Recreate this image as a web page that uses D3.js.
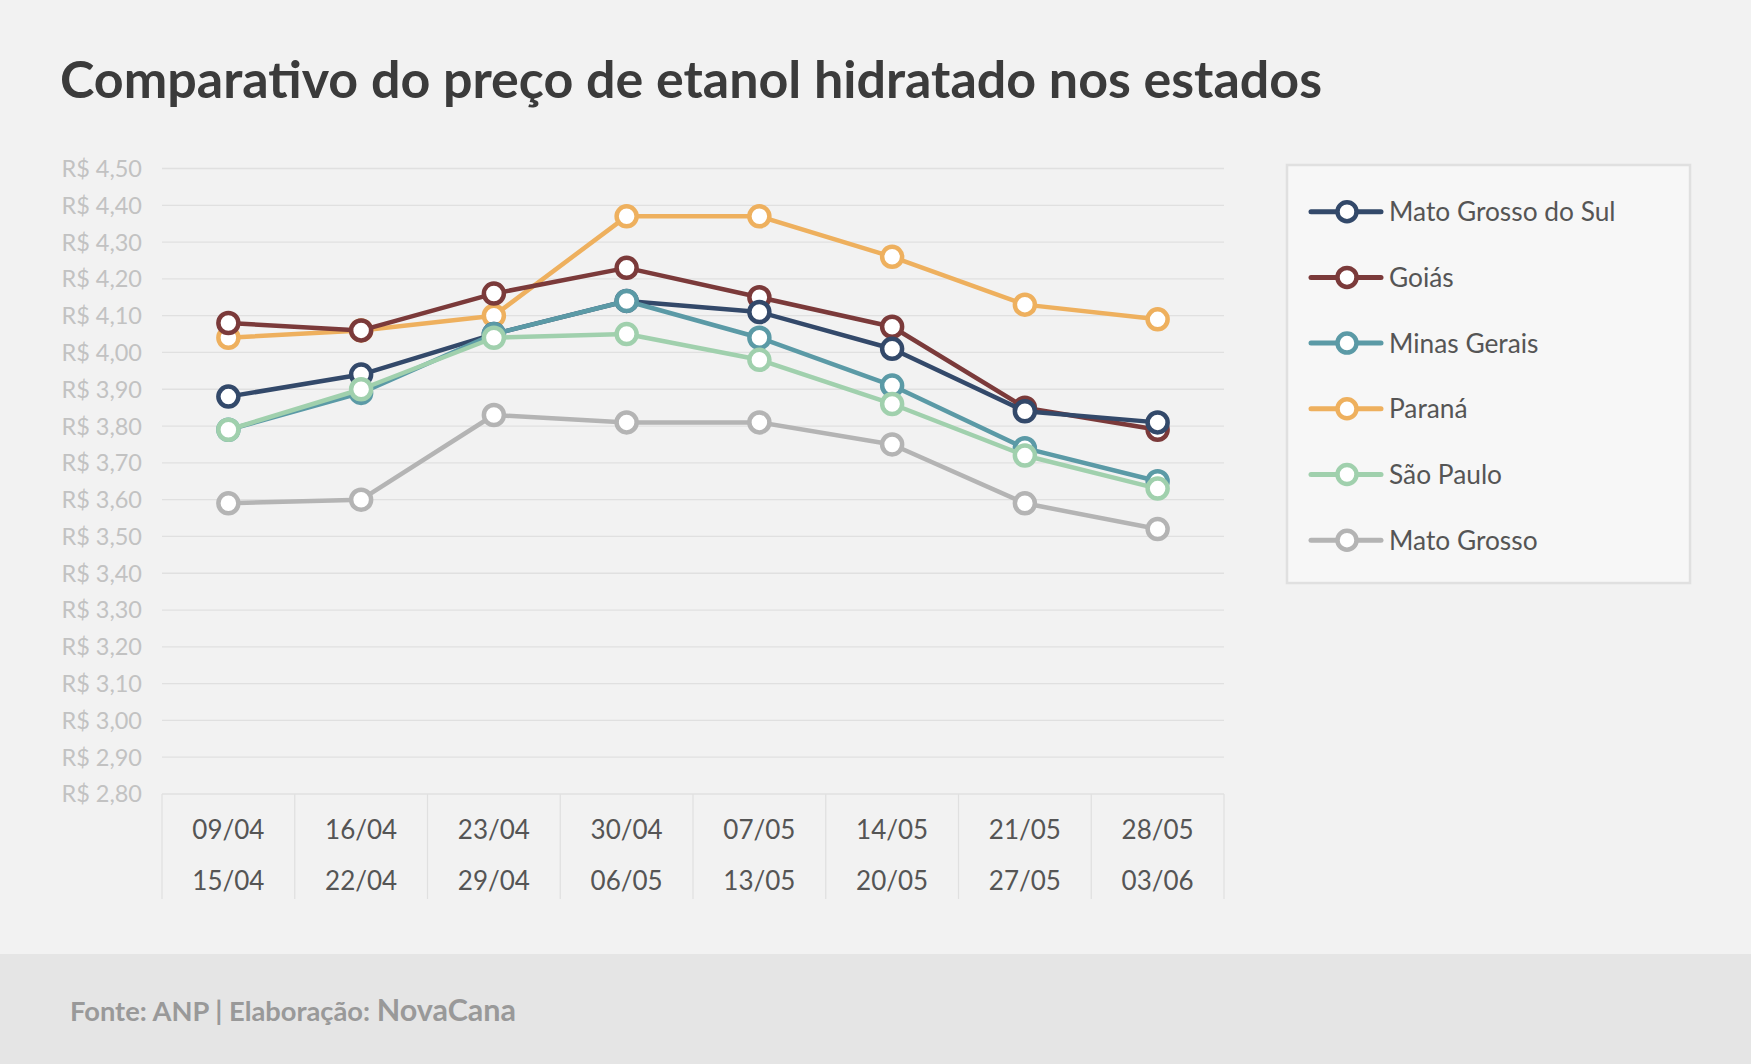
<!DOCTYPE html>
<html>
<head>
<meta charset="utf-8">
<script src="https://cdn.jsdelivr.net/npm/d3@7"></script>
<style>
  html, body { margin: 0; padding: 0; background: #f2f2f2; }
  svg { display: block; font-family: Lato, "Open Sans", sans-serif; }
</style>
</head>
<body>
<div class="chart"></div>
<script>
// semanas (início / fim)
var weekStart = ["09/04", "16/04", "23/04", "30/04", "07/05", "14/05", "21/05", "28/05"];
var weekEnd   = ["15/04", "22/04", "29/04", "06/05", "13/05", "20/05", "27/05", "03/06"];

var states = ["Mato Grosso do Sul", "Goiás", "Minas Gerais", "Paraná", "São Paulo", "Mato Grosso"];
var colors = ["#33496a", "#7b3a3a", "#5b9aa6", "#eeb05e", "#a0d0ad", "#b4b4b4"];

var matoGrossoDoSul = [3.88, 3.94, 4.05, 4.14, 4.11, 4.01, 3.84, 3.81];
var goias           = [4.08, 4.06, 4.16, 4.23, 4.15, 4.07, 3.85, 3.79];
var minasGerais     = [3.79, 3.89, 4.05, 4.14, 4.04, 3.91, 3.74, 3.65];
var parana          = [4.04, 4.06, 4.10, 4.37, 4.37, 4.26, 4.13, 4.09];
var saoPaulo        = [3.79, 3.90, 4.04, 4.05, 3.98, 3.86, 3.72, 3.63];
var matoGrosso      = [3.59, 3.60, 3.83, 3.81, 3.81, 3.75, 3.59, 3.52];

var seriesValues = [matoGrossoDoSul, goias, minasGerais, parana, saoPaulo, matoGrosso];
// ordem de desenho (de baixo para cima)
var drawOrder = [5, 3, 1, 0, 2, 4];

var yTicks = d3.range(28, 46).map(function (d) { return d / 10; });

var W = 1751, H = 1064;
var svg = d3.select(".chart").append("svg")
    .attr("width", W)
    .attr("height", H);

svg.append("rect").attr("width", W).attr("height", H).attr("fill", "#f2f2f2");

// título
svg.append("text")
    .attr("x", 60)
    .attr("y", 98)
    .attr("fill", "#3b3b3b")
    .attr("font-size", 52)
    .attr("font-weight", 700)
    .text("Comparativo do preço de etanol hidratado nos estados");

var x = d3.scaleBand()
    .domain(d3.range(weekStart.length))
    .range([162, 1224])
    .padding(0);
var y = d3.scaleLinear()
    .domain([2.8, 4.5])
    .range([794, 168.5]);

var fmt = function (v) { return "R$ " + d3.format(".2f")(v).replace(".", ","); };

// grade
var grid = svg.append("g").attr("class", "grid");
grid.selectAll("line")
    .data(yTicks)
    .enter().append("line")
    .attr("x1", x.range()[0])
    .attr("x2", x.range()[1])
    .attr("y1", function (d) { return y(d); })
    .attr("y2", function (d) { return y(d); })
    .attr("stroke", "#e0e0e0")
    .attr("stroke-width", 1.3);

grid.selectAll("text")
    .data(yTicks)
    .enter().append("text")
    .attr("x", 142)
    .attr("y", function (d) { return y(d); })
    .attr("dy", "0.36em")
    .attr("text-anchor", "end")
    .attr("fill", "#c2c2c2")
    .attr("font-size", 23.5)
    .text(fmt);

// caixa das datas
var xb = svg.append("g").attr("class", "x-box");
var edges = d3.range(weekStart.length + 1).map(function (i) {
    return i < weekStart.length ? x(i) : x.range()[1];
});
xb.selectAll("line")
    .data(edges)
    .enter().append("line")
    .attr("x1", function (d) { return d; })
    .attr("x2", function (d) { return d; })
    .attr("y1", y(2.8))
    .attr("y2", 899)
    .attr("stroke", "#e0e0e0")
    .attr("stroke-width", 1.3);

xb.selectAll("text.start")
    .data(weekStart)
    .enter().append("text")
    .attr("class", "start")
    .attr("x", function (d, i) { return x(i) + x.bandwidth() / 2; })
    .attr("y", 839)
    .attr("text-anchor", "middle")
    .attr("fill", "#555")
    .attr("font-size", 26)
    .text(function (d) { return d; });

xb.selectAll("text.end")
    .data(weekEnd)
    .enter().append("text")
    .attr("class", "end")
    .attr("x", function (d, i) { return x(i) + x.bandwidth() / 2; })
    .attr("y", 890)
    .attr("text-anchor", "middle")
    .attr("fill", "#555")
    .attr("font-size", 26)
    .text(function (d) { return d; });

// linhas
var line = d3.line()
    .x(function (d, i) { return x(i) + x.bandwidth() / 2; })
    .y(function (d) { return y(d); });

var plot = svg.append("g").attr("class", "plot");
drawOrder.forEach(function (k) {
    var g = plot.append("g");
    g.append("path")
        .attr("d", line(seriesValues[k]))
        .attr("fill", "none")
        .attr("stroke", colors[k])
        .attr("stroke-width", 4.5)
        .attr("stroke-linejoin", "round");
    g.selectAll("circle")
        .data(seriesValues[k])
        .enter().append("circle")
        .attr("cx", function (d, i) { return x(i) + x.bandwidth() / 2; })
        .attr("cy", function (d) { return y(d); })
        .attr("r", 10)
        .attr("fill", "#fff")
        .attr("stroke", colors[k])
        .attr("stroke-width", 4.5);
});

// legenda
var lg = svg.append("g").attr("class", "legend");
lg.append("rect")
    .attr("x", 1287)
    .attr("y", 165)
    .attr("width", 403)
    .attr("height", 418)
    .attr("fill", "#f7f7f7")
    .attr("stroke", "#e0e0e0")
    .attr("stroke-width", 2.5);

var item = lg.selectAll("g.item")
    .data(states)
    .enter().append("g")
    .attr("class", "item")
    .attr("transform", function (d, i) { return "translate(0," + (211.7 + i * 65.7) + ")"; });
item.append("line")
    .attr("x1", 1311).attr("x2", 1381)
    .attr("stroke", function (d, i) { return colors[i]; })
    .attr("stroke-width", 5)
    .attr("stroke-linecap", "round");
item.append("circle")
    .attr("cx", 1347)
    .attr("r", 9.5)
    .attr("fill", "#fff")
    .attr("stroke", function (d, i) { return colors[i]; })
    .attr("stroke-width", 4.5);
item.append("text")
    .attr("x", 1389)
    .attr("dy", "0.36em")
    .attr("fill", "#555")
    .attr("font-size", 26.3)
    .text(function (d) { return d; });

// rodapé
svg.append("rect")
    .attr("x", 0).attr("y", 954)
    .attr("width", W).attr("height", H - 954)
    .attr("fill", "#e5e5e5");
var foot = svg.append("text")
    .attr("x", 70)
    .attr("y", 1021)
    .attr("fill", "#999")
    .attr("font-weight", 700);
foot.append("tspan").attr("font-size", 27.3).text("Fonte: ANP | Elaboração: ");
foot.append("tspan").attr("font-size", 30.5).text("NovaCana");
</script>
</body>
</html>
